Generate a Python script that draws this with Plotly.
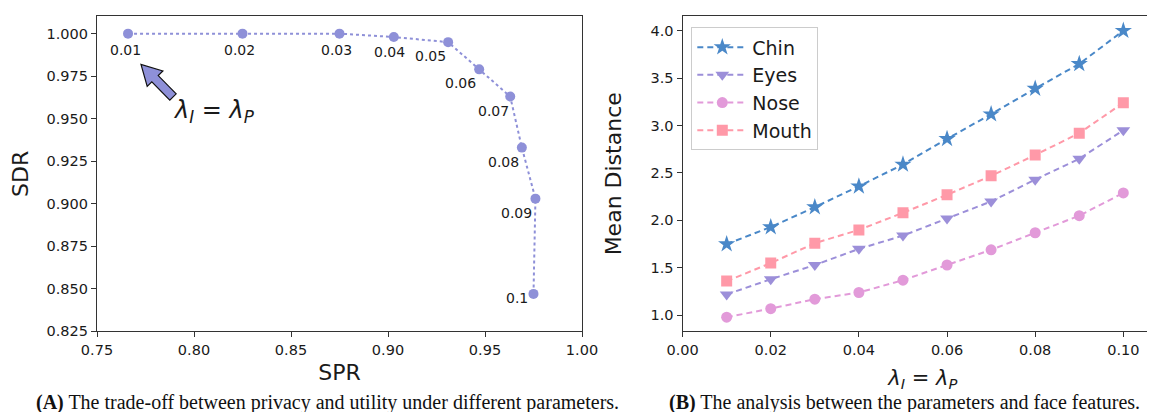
import plotly.graph_objects as go
import math

# ---------------- data ----------------
lam_labels = ["0.01", "0.02", "0.03", "0.04", "0.05", "0.06", "0.07", "0.08", "0.09", "0.1"]
spr = [0.766, 0.825, 0.875, 0.903, 0.931, 0.947, 0.963, 0.969, 0.976, 0.975]
sdr = [1.000, 1.000, 1.000, 0.998, 0.995, 0.979, 0.963, 0.933, 0.903, 0.847]

lam = [0.01, 0.02, 0.03, 0.04, 0.05, 0.06, 0.07, 0.08, 0.09, 0.10]
chin = [1.75, 1.93, 2.14, 2.36, 2.59, 2.86, 3.12, 3.39, 3.65, 4.00]
eyes = [1.22, 1.38, 1.53, 1.70, 1.84, 2.02, 2.20, 2.43, 2.65, 2.95]
nose = [0.98, 1.07, 1.17, 1.24, 1.37, 1.53, 1.69, 1.87, 2.05, 2.29]
mouth = [1.36, 1.55, 1.76, 1.90, 2.08, 2.27, 2.47, 2.69, 2.92, 3.24]

W, H = 1155, 412
# label offsets (pixels, right / down) for point labels in panel A
lab_dx = [-3, -3, -3, -4, -18, -19, -17, -18, -19, -17]
lab_dy = [16, 16, 16, 15, 14, 14, 14, 14, 14, 4]

FONT = "DejaVu Sans"
TXT = "#1a1a1a"
SPINE = "#333333"
C_A = "#8e90d8"
C_CHIN = "#4a88c8"
C_EYES = "#9c8fd9"
C_NOSE = "#e29ad9"
C_MOUTH = "#ff99a8"

def px_x(p):
    return p / W

def px_y(p):
    return 1 - p / H

fig = go.Figure()

# Panel A
fig.add_trace(go.Scatter(
    x=spr, y=sdr, mode="lines+markers",
    line=dict(color=C_A, width=2, dash="dot"),
    marker=dict(color=C_A, size=10, symbol="circle"),
    xaxis="x", yaxis="y", showlegend=False, cliponaxis=False))

for i, t in enumerate(lam_labels):
    fig.add_annotation(x=spr[i], y=sdr[i], xref="x", yref="y", text=t,
                       showarrow=False, xshift=lab_dx[i], yshift=-lab_dy[i],
                       xanchor="center", yanchor="middle",
                       font=dict(family=FONT, size=14, color=TXT))

# Panel B
series = [("Chin", chin, C_CHIN, "star", 13),
          ("Eyes", eyes, C_EYES, "triangle-down", 12),
          ("Nose", nose, C_NOSE, "circle", 11),
          ("Mouth", mouth, C_MOUTH, "square", 11)]
for name, vals, col, sym, sz in series:
    fig.add_trace(go.Scatter(
        x=lam, y=vals, mode="lines+markers", name=name,
        line=dict(color=col, width=2, dash="6px,4px"),
        marker=dict(color=col, size=sz, symbol=sym),
        xaxis="x2", yaxis="y2"))

axis_common = dict(
    showgrid=False, zeroline=False, showline=True, linecolor=SPINE, linewidth=1.2,
    ticks="outside", ticklen=5, tickcolor=SPINE, tickwidth=1.2, automargin=False,
    tickfont=dict(family=FONT, size=14.5, color=TXT),
)

fig.update_layout(
    width=W, height=H,
    margin=dict(l=0, r=0, t=0, b=0),
    paper_bgcolor="white", plot_bgcolor="white",
    xaxis=dict(domain=[px_x(89), px_x(574)], range=[0.75, 1.0],
               tickvals=[0.75, 0.80, 0.85, 0.90, 0.95, 1.00], tickformat=".2f",
               mirror=True, anchor="y",
               title=dict(text="SPR", font=dict(family=FONT, size=22, color=TXT), standoff=7),
               **axis_common),
    yaxis=dict(domain=[px_y(323.3), px_y(8.3)], range=[0.825, 1.0102],
               tickvals=[0.825, 0.85, 0.875, 0.9, 0.925, 0.95, 0.975, 1.0], tickformat=".3f",
               mirror=True, anchor="x",
               title=dict(text="SDR", font=dict(family=FONT, size=22, color=TXT), standoff=12),
               **axis_common),
    xaxis2=dict(domain=[px_x(674.6), 1.0], range=[0.0, 0.109],
                tickvals=[0.0, 0.02, 0.04, 0.06, 0.08, 0.10], tickformat=".2f",
                mirror=True, anchor="y2",
                title=dict(text="<i>λ</i><sub><i>I</i></sub> = <i>λ</i><sub><i>P</i></sub>",
                           font=dict(family=FONT, size=21, color=TXT), standoff=13),
                **axis_common),
    yaxis2=dict(domain=[px_y(323.3), px_y(8.3)], range=[0.831, 4.152],
                tickvals=[1.0, 1.5, 2.0, 2.5, 3.0, 3.5, 4.0], tickformat=".1f",
                mirror=False, anchor="x2",
                title=dict(text="Mean Distance", font=dict(family=FONT, size=22, color=TXT), standoff=22),
                **axis_common),
    legend=dict(x=px_x(683.3), y=px_y(19.3), xanchor="left", yanchor="top",
                bgcolor="rgba(255,255,255,0.9)", bordercolor="#cccccc", borderwidth=1,
                itemwidth=50,
                font=dict(family=FONT, size=19, color=TXT), tracegroupgap=0),
)

# lambda annotation in panel A
fig.add_annotation(x=px_x(206), y=px_y(103), xref="paper", yref="paper",
                   xanchor="center", yanchor="middle",
                   text="<i>λ</i><sub><i>I</i></sub> = <i>λ</i><sub><i>P</i></sub>",
                   showarrow=False, font=dict(family=FONT, size=24, color=TXT))

# fancy arrow (pixel geometry)
tip = (133.0, 56.5)
tail = (165.0, 89.0)
dx, dy = tip[0] - tail[0], tip[1] - tail[1]
L = math.hypot(dx, dy)
ux, uy = dx / L, dy / L
nx, ny = -uy, ux
hl, hw, sw = 20.0, 11.0, 4.5
bx, by = tip[0] - ux * hl, tip[1] - uy * hl
pts = [
    (tail[0] + nx * sw, tail[1] + ny * sw),
    (bx + nx * sw, by + ny * sw),
    (bx + nx * hw, by + ny * hw),
    tip,
    (bx - nx * hw, by - ny * hw),
    (bx - nx * sw, by - ny * sw),
    (tail[0] - nx * sw, tail[1] - ny * sw),
]
path = "M " + " L ".join(f"{px_x(p[0]):.5f},{px_y(p[1]):.5f}" for p in pts) + " Z"
fig.add_shape(type="path", path=path, xref="paper", yref="paper",
              fillcolor=C_A, line=dict(color="#111111", width=1.2))

# captions
CAP = "Liberation Serif"
fig.add_annotation(x=px_x(319), y=px_y(394), xref="paper", yref="paper",
                   xanchor="center", yanchor="middle",
                   text="<b>(A)</b> The trade-off between privacy and utility under different parameters.",
                   showarrow=False, font=dict(family=CAP, size=20, color="#111111"))
fig.add_annotation(x=px_x(896), y=px_y(394), xref="paper", yref="paper",
                   xanchor="center", yanchor="middle",
                   text="<b>(B)</b> The analysis between the parameters and face features.",
                   showarrow=False, font=dict(family=CAP, size=20, color="#111111"))

fig.write_html("out.html")
